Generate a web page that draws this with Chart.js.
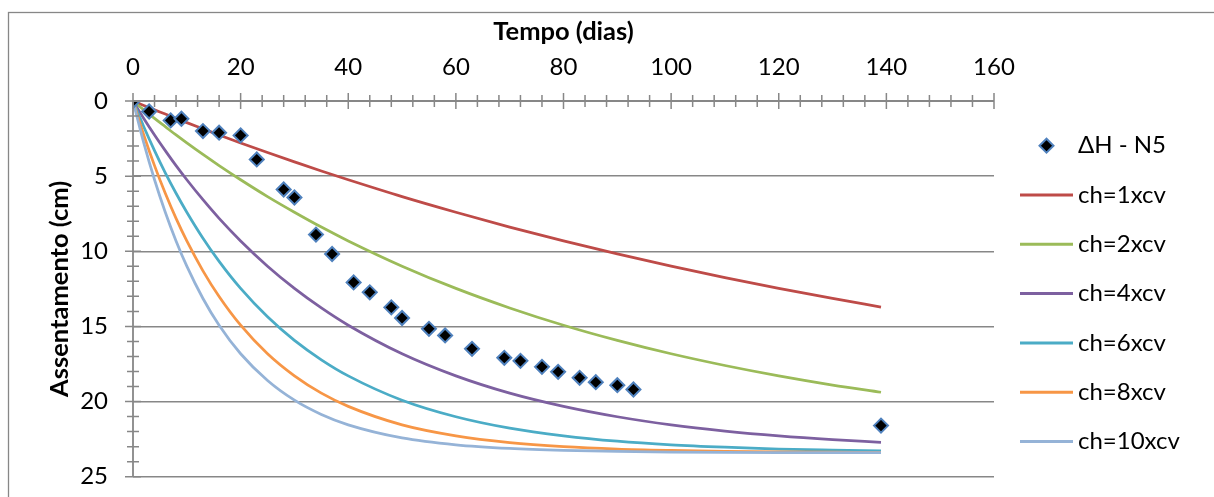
<!DOCTYPE html>
<html>
<head>
<meta charset="utf-8">
<script src="https://cdn.jsdelivr.net/npm/chart.js@4/dist/chart.umd.min.js"></script>
<style>
  html, body { margin: 0; padding: 0; background: #ffffff; }
  #wrap { width: 1214px; height: 497px; position: relative; }
</style>
</head>
<body>
<div id="wrap"><canvas id="c" width="1214" height="497"></canvas></div>
<script>
// ---- Data ----
const obsLabel = 'ΔH - N5';
const obsTime = [0, 3, 7, 9, 13, 16, 20, 23, 28, 30, 34, 37, 41, 44, 48, 50, 55, 58, 63, 69, 72, 76, 79, 83, 86, 90, 93, 139];
const obsSettle = [0, 0.7, 1.29, 1.18, 2.0, 2.11, 2.29, 3.89, 5.89, 6.42, 8.89, 10.18, 12.07, 12.73, 13.73, 14.44, 15.16, 15.6, 16.49, 17.09, 17.29, 17.69, 18.02, 18.42, 18.71, 18.91, 19.2, 21.6];

const curveTime = [0, 2, 4, 6, 8, 10, 13, 16, 20, 25, 30, 35, 40, 50, 60, 70, 80, 90, 100, 110, 120, 130, 139];
const curveLabels = ['ch=1xcv', 'ch=2xcv', 'ch=4xcv', 'ch=6xcv', 'ch=8xcv', 'ch=10xcv'];
const ch1 = [0, 0.30, 0.59, 0.87, 1.16, 1.44, 1.85, 2.26, 2.79, 3.43, 4.05, 4.66, 5.24, 6.36, 7.40, 8.39, 9.31, 10.17, 10.99, 11.75, 12.47, 13.14, 13.71];
const ch2 = [0, 0.59, 1.16, 1.71, 2.26, 2.79, 3.56, 4.30, 5.24, 6.36, 7.40, 8.39, 9.31, 10.99, 12.47, 13.77, 14.92, 15.93, 16.82, 17.60, 18.29, 18.90, 19.38];
const ch4 = [0, 1.16, 2.26, 3.30, 4.30, 5.24, 6.57, 7.81, 9.31, 10.99, 12.47, 13.77, 14.92, 16.82, 18.29, 19.44, 20.32, 21.01, 21.55, 21.96, 22.28, 22.53, 22.71];
const ch6 = [0, 1.71, 3.30, 4.78, 6.14, 7.40, 9.13, 10.67, 12.47, 14.36, 15.93, 17.22, 18.29, 19.91, 21.01, 21.77, 22.28, 22.64, 22.88, 23.04, 23.16, 23.23, 23.28];
const ch8 = [0, 2.26, 4.30, 6.14, 7.81, 9.31, 11.30, 13.01, 14.92, 16.82, 18.29, 19.44, 20.32, 21.55, 22.28, 22.73, 23.00, 23.16, 23.25, 23.31, 23.35, 23.37, 23.38];
const ch10 = [0, 2.79, 5.24, 7.40, 9.31, 10.99, 13.14, 14.92, 16.82, 18.60, 19.91, 20.86, 21.55, 22.42, 22.88, 23.12, 23.25, 23.32, 23.36, 23.38, 23.39, 23.39, 23.40];

const xTitle = 'Tempo (dias)';
const yTitle = 'Assentamento (cm)';
const xMin = 0, xMax = 160, xStep = 20, xMinorStep = 4;
const yMin = 0, yMax = 25, yStep = 5, yMinorStep = 1;

// ---- Styles ----
const FONT = "Lato, 'Open Sans', sans-serif";
const AXIS_GRAY = '#878787';
const curveColors = ['#BE4B48', '#9BBB59', '#7D60A0', '#4BACC6', '#F79646', '#95B3D7'];
const curveSeries = [ch1, ch2, ch4, ch6, ch8, ch10];

function pairs(xs, ys) { return xs.map((x, i) => ({ x: x, y: ys[i] })); }

const datasets = [{
  label: obsLabel,
  type: 'scatter',
  data: pairs(obsTime, obsSettle),
  showLine: false,
  pointStyle: 'rectRot',
  pointRadius: 7,
  pointHoverRadius: 7,
  pointBackgroundColor: '#000000',
  pointBorderColor: '#4F81BD',
  pointBorderWidth: 2,
  order: 0
}];
curveSeries.forEach((s, i) => {
  datasets.push({
    label: curveLabels[i],
    type: 'line',
    data: pairs(curveTime, s),
    borderColor: curveColors[i],
    backgroundColor: curveColors[i],
    borderWidth: 2.75,
    pointRadius: 0,
    fill: false,
    cubicInterpolationMode: 'monotone',
    order: 6 - i
  });
});

// Outer frame + background
const framePlugin = {
  id: 'frame',
  beforeDraw(chart) {
    const ctx = chart.ctx;
    ctx.save();
    ctx.fillStyle = '#ffffff';
    ctx.fillRect(0, 0, chart.width, chart.height);
    ctx.strokeStyle = AXIS_GRAY;
    ctx.lineWidth = 1.3;
    ctx.strokeRect(8.5, 12.5, chart.width + 20, chart.height + 20);
    ctx.restore();
  }
};

// Axis lines with crossing major/minor tick marks (Excel style)
const axisPlugin = {
  id: 'axisTicks',
  afterDatasetsDraw(chart) {
    const ctx = chart.ctx;
    const xs = chart.scales.x, ys = chart.scales.y;
    const y0 = ys.getPixelForValue(yMin);
    const x0 = xs.getPixelForValue(xMin);
    ctx.save();
    ctx.strokeStyle = AXIS_GRAY;
    ctx.lineWidth = 1.8;
    ctx.beginPath();
    ctx.moveTo(xs.getPixelForValue(xMin), y0);
    ctx.lineTo(xs.getPixelForValue(xMax), y0);
    ctx.moveTo(x0, ys.getPixelForValue(yMin));
    ctx.lineTo(x0, ys.getPixelForValue(yMax));
    ctx.stroke();
    ctx.lineWidth = 1.5;
    ctx.beginPath();
    for (let v = xMin; v <= xMax + 1e-9; v += xMinorStep) {
      const p = xs.getPixelForValue(v);
      const h = (v % xStep === 0) ? 8 : 6;
      ctx.moveTo(p, y0 - h);
      ctx.lineTo(p, y0 + h);
    }
    for (let v = yMin; v <= yMax + 1e-9; v += yMinorStep) {
      const p = ys.getPixelForValue(v);
      const h = (v % yStep === 0) ? 8 : 6;
      ctx.moveTo(x0 - h, p);
      ctx.lineTo(x0 + h, p);
    }
    ctx.stroke();
    ctx.restore();
  }
};

// Custom legend (right side, Excel style)
const legendPlugin = {
  id: 'sideLegend',
  afterDraw(chart) {
    const ctx = chart.ctx;
    const top = 145.7, gap = 49.3;
    const lineX0 = 1020, lineX1 = 1073, textX = 1078;
    ctx.save();
    ctx.font = "24px " + FONT;
    ctx.textBaseline = 'middle';
    ctx.textAlign = 'left';
    chart.data.datasets.forEach((ds, i) => {
      const y = top + i * gap;
      if (ds.type === 'scatter') {
        ctx.fillStyle = ds.pointBackgroundColor;
        ctx.strokeStyle = ds.pointBorderColor;
        ctx.lineWidth = ds.pointBorderWidth;
        Chart.helpers.drawPoint(ctx, { pointStyle: 'rectRot', radius: 7, borderWidth: 2, rotation: 0 }, (lineX0 + lineX1) / 2, y);
      } else {
        ctx.strokeStyle = ds.borderColor;
        ctx.lineWidth = 3;
        ctx.beginPath();
        ctx.moveTo(lineX0, y);
        ctx.lineTo(lineX1, y);
        ctx.stroke();
      }
      ctx.fillStyle = '#000000';
      ctx.fillText(ds.label, textX, y);
    });
    ctx.restore();
  }
};

new Chart(document.getElementById('c'), {
  data: { datasets: datasets },
  options: {
    responsive: false,
    devicePixelRatio: 1,
    animation: false,
    layout: { padding: { left: 0, top: 0, right: 220, bottom: 20.3 } },
    plugins: {
      legend: { display: false },
      tooltip: { enabled: false }
    },
    scales: {
      x: {
        type: 'linear',
        position: 'top',
        min: xMin, max: xMax,
        ticks: { stepSize: xStep, padding: 19.6, color: '#000000', font: { family: FONT, size: 24 } },
        grid: { display: false, drawTicks: false },
        border: { display: false },
        title: { display: true, text: xTitle, color: '#000000', font: { family: FONT, size: 25.5, weight: 'bold' }, padding: { top: 16.7, bottom: 0 } },
        afterFit(scale) { scale.height = 101; }
      },
      y: {
        type: 'linear',
        reverse: true,
        min: yMin, max: yMax,
        ticks: { stepSize: yStep, padding: 0, color: '#000000', font: { family: FONT, size: 24 } },
        grid: { display: true, drawTicks: true, tickLength: 25, tickColor: 'rgba(0,0,0,0)', color: AXIS_GRAY, lineWidth: 1.5 },
        border: { display: false },
        title: { display: true, text: yTitle, color: '#000000', font: { family: FONT, size: 25.5, weight: 'bold' }, padding: { top: 44.7, bottom: 0 } },
        afterFit(scale) { scale.width = 133; }
      }
    }
  },
  plugins: [framePlugin, axisPlugin, legendPlugin]
});
</script>
</body>
</html>
